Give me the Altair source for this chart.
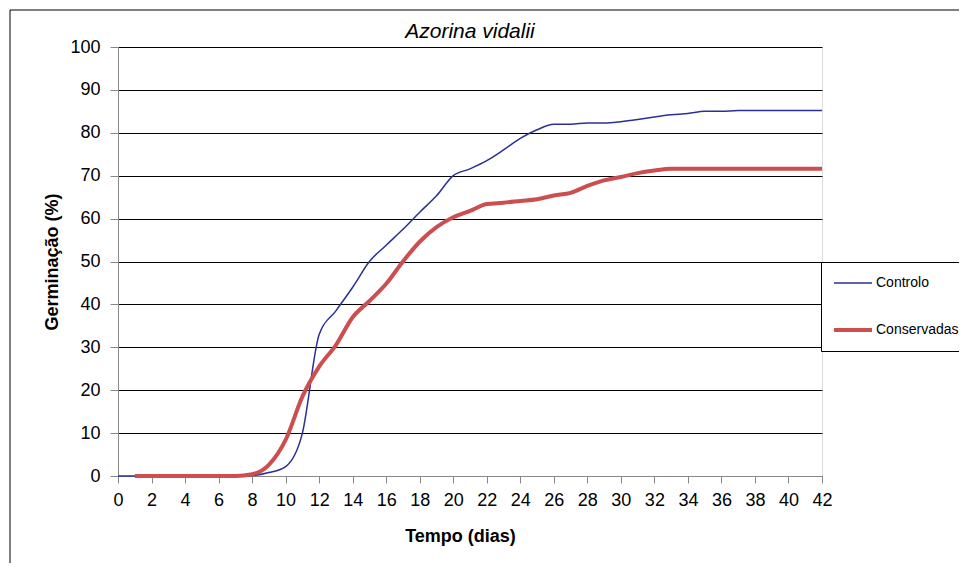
import altair as alt
import pandas as pd

days = list(range(0, 43))
controlo = [0, 0, 0, 0, 0, 0, 0, 0, 0.1, 0.8, 2.2, 10, 33, 38.5, 44, 50, 53.8, 57.5, 61.5,
            65.3, 70, 71.6, 73.5, 76, 78.7, 80.7, 82, 82, 82.3, 82.3, 82.6, 83.1, 83.7,
            84.2, 84.5, 85, 85, 85.2, 85.2, 85.2, 85.2, 85.2, 85.2]
cons_days = list(range(1, 43))
conservadas = [0, 0, 0, 0, 0, 0, 0, 0.4, 2.6, 8.4, 18.5, 25.5, 30.5, 37, 40.8, 44.8, 50,
               54.6, 58, 60.3, 61.8, 63.4, 63.7, 64.1, 64.5, 65.4, 66, 67.6, 68.9, 69.7,
               70.6, 71.2, 71.6, 71.6, 71.6, 71.6, 71.6, 71.6, 71.6, 71.6, 71.6, 71.6]
series = ["Controlo", "Conservadas"]
x_ticks = list(range(0, 43, 2))
y_ticks = list(range(0, 101, 10))

df = pd.concat([
    pd.DataFrame({"dia": days, "g": controlo, "serie": series[0]}),
    pd.DataFrame({"dia": cons_days, "g": conservadas, "serie": series[1]}),
])

FONT = "Liberation Sans"

one = pd.DataFrame({"a": [0]})
frame_left = alt.Chart(one).mark_rule(color="black", strokeWidth=1).encode(
    x=alt.value(-108), y=alt.value(-37), y2=alt.value(1200))
frame_top = alt.Chart(one).mark_rule(color="black", strokeWidth=1).encode(
    y=alt.value(-37), x=alt.value(-108), x2=alt.value(1200))

leg = dict(title=None, orient="none", legendX=703, legendY=215, symbolType="stroke",
           symbolSize=1444, clipHeight=20, rowPadding=27, padding=11, labelFontSize=14,
           labelOffset=2, labelFont=FONT, labelColor="black", strokeColor="black",
           fillColor="white", labelLimit=300)

lines = alt.Chart(df).mark_line(interpolate="monotone").encode(
    x=alt.X("dia:Q", scale=alt.Scale(domain=[0, 42], nice=False),
            axis=alt.Axis(values=x_ticks, title="Tempo (dias)", grid=False,
                          labelFontSize=18, titleFontSize=18, tickSize=7,
                          labelPadding=8, titlePadding=18, labelFlush=False,
                          titleX=342)),
    y=alt.Y("g:Q", scale=alt.Scale(domain=[0, 100], nice=False),
            axis=alt.Axis(values=y_ticks, title="Germinação (%)", grid=True,
                          gridColor="black", gridOpacity=1, gridWidth=1,
                          labelFontSize=18, titleFontSize=18, tickSize=8,
                          labelPadding=10, titlePadding=8)),
    color=alt.Color("serie:N", scale=alt.Scale(domain=series, range=["#2b2f97", "#cc4e4e"]),
                    legend=alt.Legend(**leg)),
    strokeWidth=alt.StrokeWidth("serie:N", scale=alt.Scale(domain=series, range=[1.5, 4]),
                                legend=alt.Legend(**leg)),
)

chart = alt.layer(frame_left, frame_top, lines).properties(
    width=704, height=429,
    title=alt.TitleParams("Azorina vidalii", fontSize=21, fontStyle="italic",
                          fontWeight="normal", font=FONT, color="black", offset=8,
                          frame="group", dy=40),
    autosize=alt.AutoSizeParams(type="none"),
    padding={"left": 110, "top": 39, "right": 137, "bottom": 87},
).configure_axis(
    labelFont=FONT, titleFont=FONT, labelColor="black", titleColor="black",
    domainColor="black", domainWidth=1.5, tickColor="black", gridColor="black",
    gridWidth=1, gridOpacity=1, titleFontWeight="bold",
).configure_view(stroke="black", strokeWidth=1).configure(background="white")

chart.save("out.html", embed_options={"renderer": "svg", "actions": False})
